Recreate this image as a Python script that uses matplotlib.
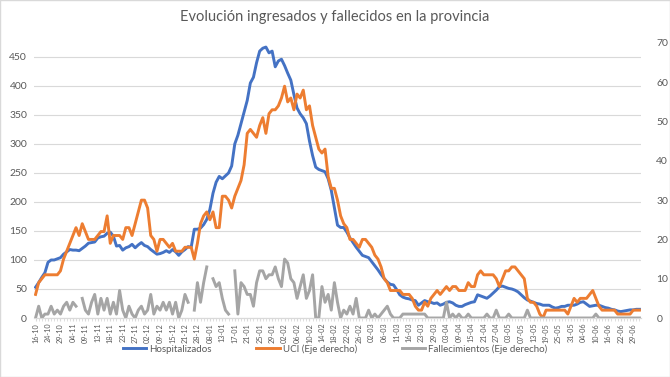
import matplotlib.pyplot as plt
from matplotlib.patches import Rectangle
import numpy as np

plt.rcParams['font.family'] = ['Lato', 'DejaVu Sans']

nan = np.nan

# etiquetas del eje x (una de cada 4 fechas)
fechas_lbl = ['16-10', '24-10', '29-10', '04-11', '09-11', '13-11', '18-11', '23-11',
              '27-11', '02-12', '09-12', '15-12', '21-12', '28-12', '08-01', '13-01',
              '17-01', '21-01', '25-01', '29-01', '02-02', '06-02', '10-02', '14-02',
              '18-02', '22-02', '26-02', '02-03', '06-03', '11-03', '16-03', '23-03',
              '29-03', '03-04', '09-04', '15-04', '21-04', '27-04', '03-05', '07-05',
              '13-05', '19-05', '25-05', '31-05', '04-06', '10-06', '16-06', '22-06',
              '29-06']

hospitalizados = [
    53, 61, 70, 78, 96, 100, 100, 102, 104, 110,
    114, 118, 117, 117, 116, 120, 124, 129, 130, 131,
    138, 140, 141, 146, 148, 141, 124, 125, 117, 121,
    123, 127, 121, 126, 130, 125, 123, 118, 114, 110,
    111, 113, 116, 113, 118, 114, 108, 114, 118, 123,
    122, 153, 153, 155, 161, 170, 187, 215, 234, 244,
    240, 245, 250, 262, 300, 315, 335, 355, 375, 405,
    415, 440, 460, 465, 467, 457, 460, 433, 443, 446,
    435, 422, 410, 385, 362, 352, 345, 335, 305, 280,
    260, 256, 254, 252, 240, 220, 190, 160, 156, 156,
    148, 138, 130, 122, 115, 108, 106, 104, 97, 90,
    83, 75, 68, 62, 58, 57, 49, 40, 36, 34,
    33, 31, 30, 22, 26, 30, 28, 27, 25, 26,
    22, 24, 27, 28, 26, 22, 20, 20, 23, 25,
    27, 28, 40, 38, 36, 34, 38, 43, 48, 54,
    55, 53, 51, 50, 48, 45, 40, 35, 31, 29,
    27, 25, 24, 22, 22, 22, 19, 17, 18, 20,
    20, 22, 22, 22, 24, 27, 28, 24, 20, 21,
    22, 22, 20, 18, 17, 15, 14, 12, 11, 12,
    13, 14, 14, 15, 15]

uci = [
    6, 9, 10, 11, 11, 11, 11, 11, 12, 15,
    17, 19, 21, 23, 21, 24, 22, 20, 20, 20,
    21, 22, 22, 26, 19, 21, 21, 21, 20, 23,
    23, 21, 24, 27, 30, 30, 28, 21, 20, 17,
    20, 20, 19, 18, 19, 17, 17, 17, 18, 18,
    18, 15, 19, 24, 26, 27, 25, 27, 23, 23,
    31, 31, 30, 28, 31, 33, 35, 39, 47, 48,
    47, 46, 49, 51, 47, 52, 53, 53, 54, 56,
    59, 55, 56, 53, 57, 56, 58, 53, 54, 49,
    46, 43, 42, 43, 36, 33, 33, 30, 26, 24,
    23, 20, 20, 19, 18, 20, 20, 19, 18, 16,
    15, 13, 10, 9, 7, 7, 7, 7, 6, 6,
    6, 5, 3, 2, 2, 4, 3, 5, 6, 7,
    6, 7, 8, 7, 8, 8, 7, 7, 7, 9,
    8, 8, 11, 12, 11, 11, 11, 11, 10, 8,
    10, 12, 12, 13, 13, 12, 11, 10, 5, 4,
    4, 3, 1, 0, 2, 2, 2, 2, 2, 2,
    2, 1, 3, 5, 4, 5, 5, 5, 6, 7,
    5, 3, 2, 2, 2, 2, 2, 1, 1, 1,
    1, 1, 2, 2, 2]

fallecimientos = [
    0, 3, 0, 1, 1, 3, 1, 2, 1, 3,
    4, 2, 4, 3, nan, 5, 2, 1, 4, 6,
    1, 5, 2, 5, 1, 4, 1, 7, 2, 0,
    3, 1, 0, 2, 3, 1, 2, 6, 1, 3,
    2, 4, 2, 4, 1, 4, 0, 2, 6, 4,
    nan, 2, 9, 4, 9, 13, nan, 10, 8, 9,
    5, 2, 1, nan, 12, 1, 9, 8, 6, 6,
    3, 9, 12, 12, 10, 11, 11, 13, 10, 8,
    15, 14, 10, 9, 5, 8, 11, 5, 7, 11,
    0, 0, 8, 4, 6, 2, 9, 4, 0, 2,
    1, 3, 1, 5, 0, 0, 0, 2, 0, 1,
    0, 1, 2, 3, 1, 0, 0, 0, 1, 1,
    1, 1, 1, 1, 1, 1, 0, 0, 0, 0,
    0, 0, 4, 0, 1, 0, 1, 0, 0, 1,
    0, 0, 0, 0, 0, 1, 0, 0, 2, 0,
    0, 0, 1, 0, 0, 0, 0, 0, 2, 0,
    0, 0, 0, 0, 0, 0, 0, 0, 0, 0,
    0, 0, 0, 0, 0, 0, 0, 0, 0, 0,
    1, 0, 0, 0, 0, 0, 0, 0, 0, 0,
    0, 0, 0, 0, 0]

gris_txt = '#595959'
gris_grid = '#d9d9d9'

fig = plt.figure(figsize=(6.7, 3.77), dpi=100)
ax = fig.add_axes([34 / 670, 1 - 318 / 377, (641 - 34) / 670, (318 - 43) / 377])
ax2 = ax.twinx()

x = np.arange(len(hospitalizados))
l1, = ax.plot(x, hospitalizados, color='#4472C4', lw=2.1, solid_joinstyle='round')
l2, = ax2.plot(x, uci, color='#ED7D31', lw=2.1, solid_joinstyle='round')
l3, = ax2.plot(x, fallecimientos, color='#A5A5A5', lw=2.1, solid_joinstyle='round')

ax.set_xlim(-0.5, len(x) - 0.5)
ax.set_ylim(0, 474)
ax2.set_ylim(0, 70)
ax.set_yticks(range(0, 451, 50))
ax2.set_yticks(range(0, 71, 10))
ax.grid(axis='y', color=gris_grid, lw=0.8)
ax.set_axisbelow(True)

for a in (ax, ax2):
    for s in ('top', 'left', 'right'):
        a.spines[s].set_visible(False)
    a.spines['bottom'].set_color(gris_grid)

ax.set_xticks(x[::4])
ax.set_xticklabels(fechas_lbl, rotation=90, fontsize=5.2, color=gris_txt)
ax.set_xticks(x, minor=True)
ax.tick_params(axis='x', which='both', length=2, color=gris_grid, pad=1.5)
ax.tick_params(axis='y', length=0, labelsize=7.5, labelcolor=gris_txt, pad=5)
ax2.tick_params(axis='y', length=0, labelsize=7.5, labelcolor=gris_txt, pad=11)

fig.text(0.5, 1 - 17 / 377, 'Evolución ingresados y fallecidos en la provincia',
         ha='center', va='center', fontsize=10.5, color=gris_txt)

fig.legend([l1, l2, l3], ['Hospitalizados', 'UCI (Eje derecho)', 'Fallecimientos (Eje derecho)'],
           loc='center', bbox_to_anchor=(0.5, 1 - 349 / 377), ncol=3, frameon=False,
           fontsize=7, handlelength=2.4, columnspacing=4.6, handletextpad=0.3,
           labelcolor=gris_txt)

fig.patches.append(Rectangle((0, 0), 1, 1, transform=fig.transFigure, fill=False,
                             edgecolor=gris_grid, lw=1))

fig.savefig('out.png', dpi=100)
